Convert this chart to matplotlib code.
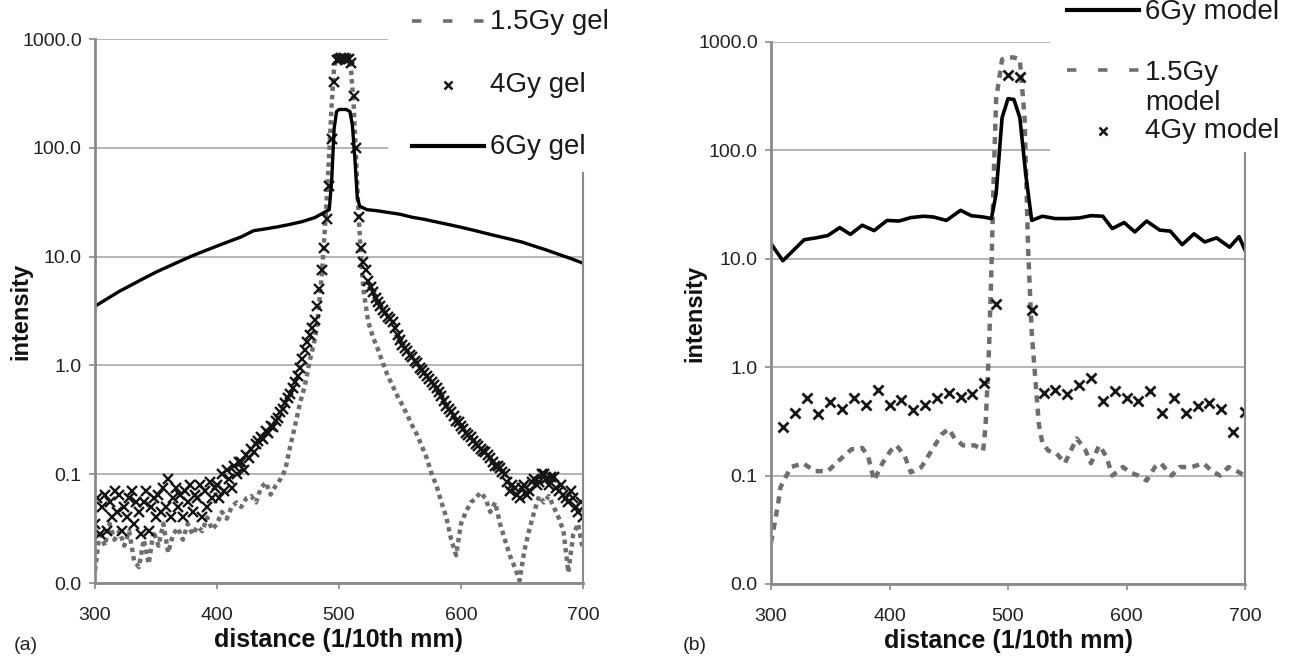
import matplotlib
matplotlib.use("Agg")
import matplotlib.pyplot as plt
from matplotlib.lines import Line2D
from matplotlib.patches import Rectangle

plt.rcParams['font.family'] = ['Liberation Sans', 'DejaVu Sans']

# ---- panel (a): gel measurements ----
dist_15_gel = [300, 304, 308, 312, 316, 320, 324, 328, 332, 336, 340, 344, 348, 352, 356,
               360, 364, 368, 372, 376, 380, 384, 388, 392, 396, 400, 404, 408, 412, 416,
               420, 424, 428, 432, 436, 440, 444, 448, 452, 456, 460, 464, 468, 472, 476,
               480, 482, 484, 486, 488, 490, 492, 494, 496, 498, 500, 502, 504, 506, 508,
               510, 512, 514, 516, 518, 520,
               524, 528, 532, 536, 540, 544, 548, 552, 556, 560, 564, 568, 572, 576, 580,
               584, 588, 592, 596, 600, 604, 608, 612, 616, 620, 624, 628, 632, 636, 640,
               644, 648, 652, 656, 660, 664, 668, 672, 676, 680, 684, 688, 692, 696, 700]
int_15_gel = [0.013, 0.03, 0.022, 0.035, 0.025, 0.03, 0.022, 0.03, 0.016, 0.014, 0.025, 0.015, 0.03, 0.022, 0.035,
              0.019, 0.028, 0.032, 0.025, 0.035, 0.028, 0.033, 0.03, 0.04, 0.031, 0.035, 0.045, 0.039, 0.05, 0.055,
              0.05, 0.06, 0.063, 0.055, 0.075, 0.084, 0.065, 0.078, 0.09, 0.11, 0.18, 0.28, 0.45, 0.65, 1.1,
              1.7, 2.3, 4, 7, 15, 35, 90, 250, 550, 680, 700, 700, 690, 680, 650,
              500, 250, 80, 25, 10, 5,
              2.5, 1.8, 1.4, 1.05, 0.8, 0.65, 0.52, 0.43, 0.35, 0.28, 0.23, 0.18, 0.14, 0.1, 0.078,
              0.055, 0.04, 0.025, 0.018, 0.035, 0.045, 0.055, 0.06, 0.068, 0.06, 0.045, 0.055, 0.035, 0.025, 0.018,
              0.014, 0.0105, 0.02, 0.031, 0.045, 0.063, 0.055, 0.063, 0.05, 0.04, 0.03, 0.0125, 0.028, 0.035, 0.02]

# 4Gy gel read every 2 units from 300 to 700
dist_4_gel = list(range(300, 701, 2))
int_4_gel = [0.035, 0.06, 0.028, 0.05, 0.065, 0.03, 0.055, 0.04, 0.07, 0.045,
             0.065, 0.03, 0.05, 0.04, 0.06, 0.07, 0.035, 0.055, 0.045, 0.028,
             0.055, 0.07, 0.03, 0.05, 0.06, 0.04, 0.065, 0.045, 0.075, 0.05,
             0.09, 0.04, 0.06, 0.075, 0.05, 0.065, 0.04, 0.07, 0.055, 0.08,
             0.045, 0.065, 0.06, 0.08, 0.04, 0.07, 0.05, 0.085, 0.06, 0.075,
             0.08, 0.06, 0.1, 0.07, 0.11, 0.09, 0.075, 0.12, 0.1, 0.13,
             0.13, 0.11, 0.15, 0.14, 0.17, 0.16, 0.19, 0.2, 0.22, 0.21,
             0.25, 0.24, 0.28, 0.27, 0.31, 0.33, 0.37, 0.4, 0.45, 0.5,
             0.55, 0.62, 0.7, 0.8, 0.95, 1.15, 1.4, 1.65, 1.9, 2.2,
             2.6, 3.5, 5, 7.5, 12, 22, 45, 120, 400, 640,
             660, 670, 665, 660, 650, 600, 300, 100, 23, 12,
             9, 7.5, 6, 5.3, 4.7, 4.2, 3.8, 3.5, 3.2, 3.0,
             2.8, 2.65, 2.5, 2.2, 1.9, 1.7, 1.55, 1.45, 1.35, 1.25,
             1.2, 1.1, 1.05, 0.95, 0.9, 0.85, 0.8, 0.75, 0.7, 0.66,
             0.62, 0.57, 0.52, 0.47, 0.42, 0.4, 0.37, 0.34, 0.31, 0.3,
             0.28, 0.26, 0.24, 0.23, 0.22, 0.2, 0.19, 0.18, 0.17, 0.165,
             0.16, 0.15, 0.14, 0.13, 0.12, 0.12, 0.115, 0.105, 0.1, 0.085,
             0.07, 0.08, 0.075, 0.065, 0.06, 0.075, 0.08, 0.065, 0.07, 0.085,
             0.09, 0.08, 0.085, 0.1, 0.1, 0.09, 0.08, 0.095, 0.095, 0.075,
             0.07, 0.08, 0.065, 0.06, 0.055, 0.07, 0.06, 0.05, 0.045, 0.055,
             0.04]

dist_6_gel = [300, 310, 320, 330, 340, 350, 360, 370, 380, 390, 400, 410, 420, 430, 440,
              450, 460, 470, 480, 488, 492, 494, 496, 498, 500, 506, 509, 511, 513, 515,
              517, 523, 530, 540, 550, 560, 570, 580, 590, 600, 610, 620, 630, 640, 650,
              660, 670, 680, 690, 700]
int_6_gel = [3.5, 4.1, 4.8, 5.5, 6.3, 7.2, 8.1, 9.1, 10.2, 11.3, 12.5, 13.8, 15.2, 17.3, 18.0,
             18.8, 19.8, 21.0, 22.8, 25.5, 27, 50, 150, 215, 225, 225, 215, 160, 80, 35,
             29, 27, 26.5, 25.5, 24.5, 23.0, 22.0, 20.8, 19.7, 18.6, 17.5, 16.4, 15.4, 14.5, 13.6,
             12.5, 11.5, 10.5, 9.6, 8.7]

# ---- panel (b): model ----
dist_6_model = [300, 310, 320, 328, 338, 348, 358, 367, 377, 387, 398, 408, 418, 429, 437,
                448, 460, 469, 479, 486, 490, 495, 500, 505, 510, 515, 520, 529, 540, 550,
                560, 570, 580, 588, 598, 607, 617, 628, 637, 647, 657, 666, 676, 687, 695, 700]
int_6_model = [13.8, 9.6, 12.3, 15, 15.6, 16.4, 19.4, 16.8, 20.4, 18.2, 22.6, 22.3, 24, 24.7, 24.3,
               22.6, 28, 25, 24.3, 23.5, 40, 200, 300, 295, 200, 60, 22.6, 24.7, 23.5, 23.5,
               23.8, 25, 24.7, 19, 21.6, 17.7, 22.3, 18.4, 18, 13.5, 17, 14.3, 15.6, 12.8, 16, 12]

dist_15_model = [300, 303, 306, 308, 313, 317, 327, 337, 348, 358, 368, 377, 382, 387, 394,
                 401, 406, 413, 418, 427, 434, 444, 450, 455, 462, 472, 479, 481, 484, 486,
                 488, 490, 495, 500, 505, 510, 514, 517, 520, 523, 526, 529, 534, 541, 548,
                 553, 558, 565, 570, 577, 583, 588, 597, 603, 610, 617, 624, 629, 638, 645,
                 655, 665, 672, 679, 686, 693, 700]
int_15_model = [0.024, 0.036, 0.055, 0.078, 0.1, 0.12, 0.13, 0.11, 0.11, 0.14, 0.175, 0.18, 0.15, 0.09, 0.13,
                0.17, 0.19, 0.15, 0.107, 0.12, 0.16, 0.24, 0.27, 0.22, 0.19, 0.19, 0.17, 0.28, 1.5, 8,
                60, 300, 690, 720, 720, 690, 200, 12, 2.1, 0.8, 0.3, 0.2, 0.17, 0.16, 0.13,
                0.17, 0.22, 0.175, 0.13, 0.19, 0.15, 0.1, 0.12, 0.107, 0.1, 0.09, 0.12, 0.13, 0.1, 0.12,
                0.12, 0.13, 0.11, 0.1, 0.12, 0.11, 0.1]

dist_4_model = [310, 320, 330, 340, 350, 360, 370, 380, 390, 400, 410, 420, 430, 440, 450,
                460, 470, 480, 490, 500, 510, 520, 530, 540, 550, 560, 570, 580, 590, 600,
                610, 620, 630, 640, 650, 660, 670, 680, 690, 700]
int_4_model = [0.28, 0.38, 0.52, 0.37, 0.48, 0.41, 0.52, 0.45, 0.62, 0.45, 0.5, 0.4, 0.45, 0.52, 0.58,
               0.53, 0.56, 0.72, 3.8, 500, 480, 3.4, 0.58, 0.61, 0.56, 0.69, 0.8, 0.49, 0.6, 0.52,
               0.49, 0.6, 0.38, 0.52, 0.38, 0.44, 0.47, 0.41, 0.25, 0.39]

y_ticks = [0.01, 0.1, 1, 10, 100, 1000]
y_tick_labels = ["0.0", "0.1", "1.0", "10.0", "100.0", "1000.0"]
x_ticks = [300, 400, 500, 600, 700]

W, H = 1301, 660
GRAY_LINE = '#8a8a8a'
GRID = '#a8a8a8'
DARK = '#151515'
MID = '#6e6e6e'

fig = plt.figure(figsize=(W / 100, H / 100), dpi=100)
fig.patch.set_facecolor('white')


def fx(px):
    return px / W


def fy(py):
    return 1 - py / H


def style_axes(ax, letter, label_x):
    ax.set_yscale('log')
    ax.set_xlim(300, 700)
    ax.set_ylim(0.01, 1000)
    ax.set_yticks(y_ticks)
    ax.set_yticklabels(y_tick_labels)
    ax.yaxis.set_minor_locator(matplotlib.ticker.NullLocator())
    ax.set_xticks(x_ticks)
    ax.grid(axis='y', color=GRID, linewidth=1.2)
    ax.set_axisbelow(True)
    ax.spines['top'].set_visible(False)
    for s in ('left', 'bottom'):
        ax.spines[s].set_color(GRAY_LINE)
        ax.spines[s].set_linewidth(2)
    ax.spines['right'].set_color(GRAY_LINE)
    ax.spines['right'].set_linewidth(1.5)
    ax.tick_params(axis='y', direction='out', length=4.5, width=1.2, color=GRAY_LINE,
                   pad=5, labelsize=14, labelcolor='#222222')
    ax.tick_params(axis='x', direction='out', length=4, width=1.2, color=GRAY_LINE,
                   pad=13, labelsize=14, labelcolor='#222222')
    ax.set_xlabel('distance (1/10th mm)', fontsize=18, fontweight='bold', color='#111111')
    ax.xaxis.set_label_coords(0.5, -0.083)
    ax.set_ylabel('intensity', fontsize=17, fontweight='bold', color='#111111')
    ax.yaxis.set_label_coords(label_x, 0.5)
    fig.text(fx(letter[1]), fy(645), letter[0], fontsize=14, color='#222222',
             ha='left', va='center')


ax1 = fig.add_axes([fx(95), fy(583), 488 / W, 544 / H])
ax2 = fig.add_axes([fx(771), fy(584), 474 / W, 542 / H])

ax1.plot(dist_15_gel, int_15_gel, color=MID, linewidth=3.2, linestyle=(0, (1.0, 0.9)))
ax1.plot(dist_4_gel, int_4_gel, linestyle='none', marker='x', markersize=7.5,
         markeredgewidth=1.7, color=DARK)
ax1.plot(dist_6_gel, int_6_gel, color='black', linewidth=2.4)
style_axes(ax1, ('(a)', 14), -0.129)

ax2.plot(dist_15_model, int_15_model, color=MID, linewidth=3.2, linestyle=(0, (1.6, 1.4)))
ax2.plot(dist_4_model, int_4_model, linestyle='none', marker='x', markersize=7.5,
         markeredgewidth=2, color=DARK)
ax2.plot(dist_6_model, int_6_model, color='black', linewidth=2.6)
style_axes(ax2, ('(b)', 683), -0.137)


# ---- legends drawn on white boxes that sit over the plot frame ----
def legend_box(x0, x1, y1):
    fig.add_artist(Rectangle((fx(x0), fy(y1)), fx(x1) - fx(x0), fy(0) - fy(y1),
                             transform=fig.transFigure, facecolor='white',
                             edgecolor='none', zorder=10))


def legend_line(x0, x1, y, **kw):
    fig.add_artist(Line2D([fx(x0), fx(x1)], [fy(y), fy(y)], transform=fig.transFigure,
                          zorder=11, **kw))


def legend_mark(x, y, **kw):
    fig.add_artist(Line2D([fx(x)], [fy(y)], transform=fig.transFigure, linestyle='none',
                          marker='x', zorder=11, **kw))


def legend_text(x, y, s):
    fig.text(fx(x), fy(y), s, fontsize=20, color='#1a1a1a', ha='left', va='center',
             zorder=12)


legend_box(388, 660, 172)
legend_line(412, 484, 21, color=MID, linewidth=2.6, linestyle=(0, (2.6, 6)))
legend_text(490, 22, '1.5Gy gel')
legend_mark(448, 85, color=DARK, markersize=6, markeredgewidth=1.8)
legend_text(490, 85, '4Gy gel')
legend_line(412, 484, 146, color='black', linewidth=3)
legend_text(490, 147, '6Gy gel')

legend_box(1050, 1301, 152)
legend_line(1067, 1139, 10, color='black', linewidth=3)
legend_text(1145, 12, '6Gy model')
legend_line(1067, 1139, 70, color=MID, linewidth=2.6, linestyle=(0, (2.6, 6)))
legend_text(1145, 73, '1.5Gy')
legend_text(1145, 103, 'model')
legend_mark(1103, 131, color=DARK, markersize=6, markeredgewidth=1.8)
legend_text(1145, 131, '4Gy model')

fig.savefig('out.png', dpi=100)
